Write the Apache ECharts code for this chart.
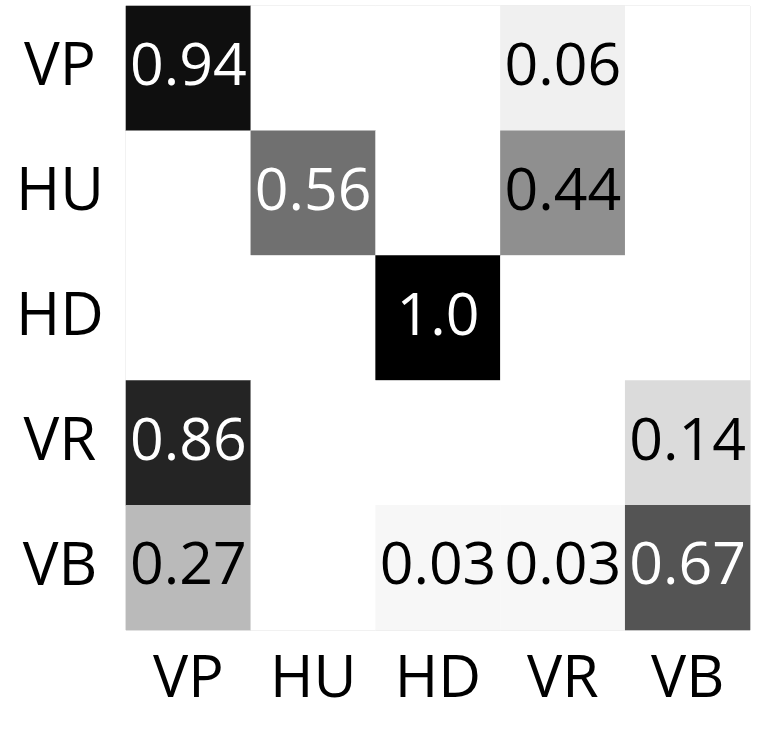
<!DOCTYPE html>
<html><head><meta charset="utf-8">
<script src="https://cdn.jsdelivr.net/npm/echarts@6/dist/echarts.min.js"></script>
<style>html,body{margin:0;padding:0;background:#fff}#c{width:758px;height:734px}</style>
</head><body><div id="c"></div>
<script>
const predLabels = ['VP','HU','HD','VR','VB'];
const trueLabels = ['VP','HU','HD','VR','VB'];
const rowVP = [0.94, 0, 0, 0.06, 0];
const rowHU = [0, 0.56, 0, 0.44, 0];
const rowHD = [0, 0, 1.0, 0, 0];
const rowVR = [0.86, 0, 0, 0, 0.14];
const rowVB = [0.27, 0, 0.03, 0.03, 0.67];
const rows = [rowVP, rowHU, rowHD, rowVR, rowVB];

const data = [];
rows.forEach((r, i) => r.forEach((v, j) => data.push([j, i, v])));

const chart = echarts.init(document.getElementById('c'));
const FONT = 'Open Sans';
chart.setOption({
  animation: false,
  backgroundColor: '#fff',
  grid: {left: 126, top: 6, width: 624, height: 624, show: true, borderColor: '#dcdcdc', borderWidth: 1, backgroundColor: 'transparent'},
  xAxis: {type: 'category', data: predLabels, axisLine: {show: false}, axisTick: {show: false}, splitLine: {show: false},
    axisLabel: {fontSize: 59, color: '#000', fontFamily: FONT, margin: 21}},
  yAxis: {type: 'category', data: trueLabels, inverse: true, axisLine: {show: false}, axisTick: {show: false}, splitLine: {show: false},
    axisLabel: {fontSize: 60, color: '#000', fontFamily: FONT, margin: 66, align: 'center'}},
  visualMap: {show: false, type: 'continuous', min: 0, max: 1, dimension: 2, inRange: {color: ['#ffffff', '#000000']}},
  series: [{
    type: 'heatmap',
    data: data.map(d => ({value: d, label: {color: d[2] > 0.5 ? '#fff' : '#000'}})),
    itemStyle: {borderWidth: 0},
    label: {show: true, fontSize: 59, fontFamily: FONT,
      formatter: p => { const v = p.value[2]; if (v === 0) return ''; return v === 1 ? '1.0' : v.toFixed(2); }
    }
  }]
});
</script></body></html>
